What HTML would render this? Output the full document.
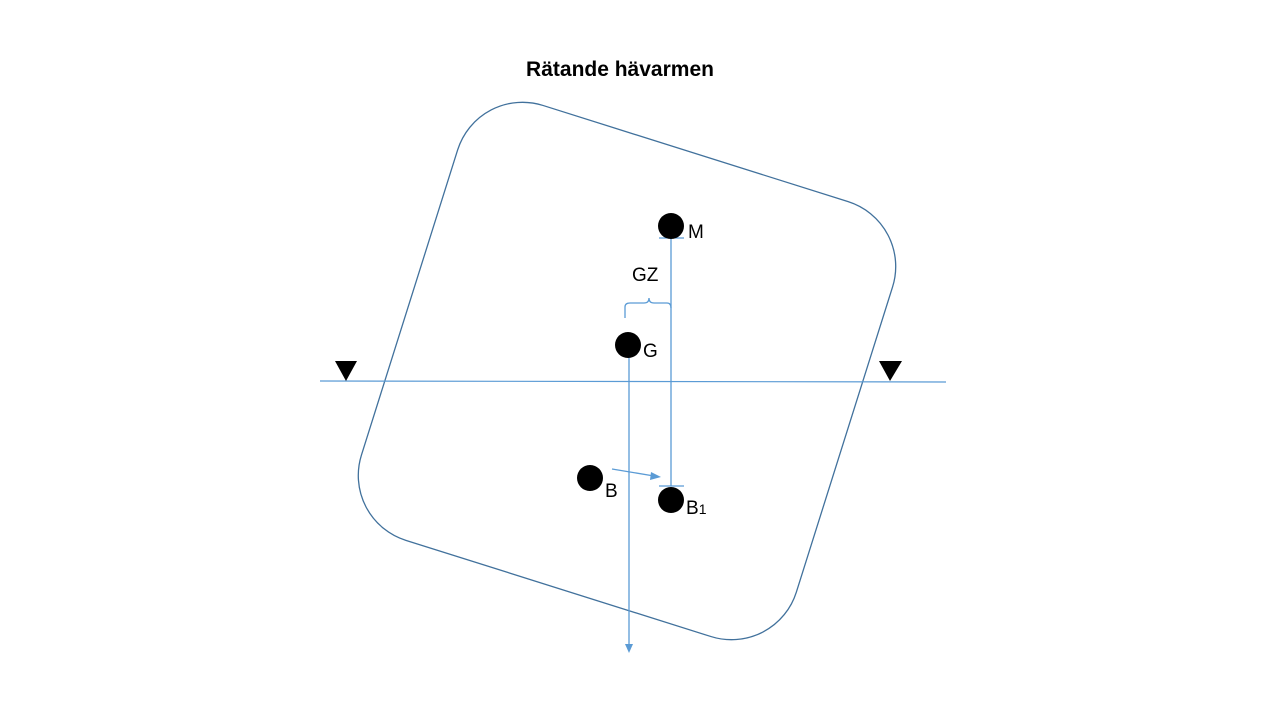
<!DOCTYPE html>
<html><head><meta charset="utf-8"><style>
html,body{margin:0;padding:0;background:#fff;width:1280px;height:720px;overflow:hidden}
svg{display:block}
text{font-family:"Liberation Sans",sans-serif}
</style></head><body>
<svg width="1280" height="720" viewBox="0 0 1280 720" xmlns="http://www.w3.org/2000/svg">
<text x="620" y="76" text-anchor="middle" font-size="21" font-weight="bold" fill="#000">Rätande hävarmen</text>
<rect x="-228" y="-228" width="456" height="456" rx="68" ry="68" fill="none" stroke="#41719c" stroke-width="1.3" transform="translate(627,371) rotate(17.5)"/>
<line x1="320" y1="381" x2="946" y2="382" stroke="#5b9bd5" stroke-width="1.2"/>
<polygon points="335,361 357,361 346,381" fill="#000"/>
<polygon points="879,361 902,361 890,381" fill="#000"/>
<g stroke="#5b9bd5" stroke-width="1.3" fill="none">
<line x1="629" y1="345" x2="629" y2="645"/>
<line x1="671" y1="238" x2="671" y2="486"/>
<line x1="659" y1="238" x2="684" y2="238"/>
<line x1="659" y1="486" x2="684" y2="486"/>
<line x1="612" y1="469" x2="654" y2="476"/>
<path d="M625,318 L625,307 Q625,303 630,303 L644,303 Q649,303 649,298 Q649,303 654,303 L667,303 Q671,303 671,308"/>
</g>
<polygon points="625,644 633,644 629,653" fill="#5b9bd5"/>
<polygon points="651,472 661,477 650,480" fill="#5b9bd5"/>
<circle cx="671" cy="226" r="13" fill="#000"/>
<circle cx="628" cy="345" r="13" fill="#000"/>
<circle cx="590" cy="478" r="13" fill="#000"/>
<circle cx="671" cy="500" r="13" fill="#000"/>
<g font-size="19" fill="#000">
<text x="688" y="238">M</text>
<text x="643" y="357">G</text>
<text x="605" y="497">B</text>
<text x="686" y="514">B<tspan font-size="14">1</tspan></text>
<text x="632" y="281">GZ</text>
</g>
</svg>
</body></html>
